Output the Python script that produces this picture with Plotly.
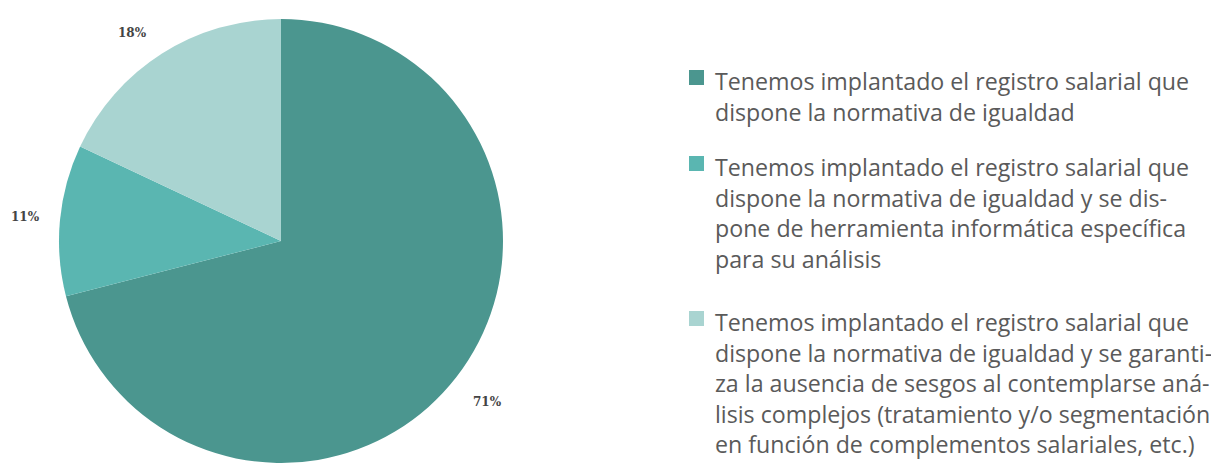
import plotly.graph_objects as go

# The page shows the figure with an 8px body margin, so the figure is drawn
# 8px smaller and every viewport position is shifted by that offset.
VW, VH = 1219, 463
OFF = 8
W, H = VW - OFF, VH - OFF

categories = [
    "Tenemos implantado el registro salarial que<br>dispone la normativa de igualdad",
    "Tenemos implantado el registro salarial que<br>dispone la normativa de igualdad y se dis-<br>pone de herramienta informática específica<br>para su análisis",
    "Tenemos implantado el registro salarial que<br>dispone la normativa de igualdad y se garanti-<br>za la ausencia de sesgos al contemplarse aná-<br>lisis complejos (tratamiento y/o segmentación<br>en función de complementos salariales, etc.)",
]
values = [71, 11, 18]
colors = ["#4b968f", "#5ab6b1", "#a9d4d1"]

# label positions (viewport pixels) for the outside percentage labels
label_px = [(487, 402), (25, 217), (133, 33)]
# legend first-line baselines (viewport pixels)
legend_first_baseline = [89, 175, 330]
LINE_H = 30.5


def px_x(x):
    return (x - OFF) / W


def px_y(y):
    return 1 - (y - OFF) / H


cx, cy, r = 281, 241, 222

fig = go.Figure()
fig.add_trace(go.Pie(
    values=values,
    labels=[c.replace("<br>", " ") for c in categories],
    marker=dict(colors=colors, line=dict(width=0)),
    sort=False,
    direction="clockwise",
    rotation=0,
    textinfo="none",
    hoverinfo="label+percent",
    showlegend=False,
    domain=dict(x=[px_x(cx - r), px_x(cx + r)],
                y=[max(0, px_y(cy + r)), px_y(cy - r)]),
))

annotations = []
total = sum(values)
for v, (lx, ly) in zip(values, label_px):
    annotations.append(dict(
        x=px_x(lx), y=px_y(ly), xref="paper", yref="paper",
        text=f"<b>{round(100 * v / total)}%</b>", showarrow=False,
        xanchor="center", yanchor="middle",
        font=dict(family="DejaVu Serif", size=12, color="#444444"),
    ))

shapes = []
FS = 23.2
for cat, col, b0 in zip(categories, colors, legend_first_baseline):
    shapes.append(dict(
        type="rect", xref="paper", yref="paper",
        x0=px_x(689), x1=px_x(704), y0=px_y(b0 - 4), y1=px_y(b0 - 19),
        fillcolor=col, line=dict(width=0),
    ))
    for i, line in enumerate(cat.split("<br>")):
        base = b0 + i * LINE_H
        annotations.append(dict(
            x=px_x(713), y=px_y(base - 0.33 * FS), xref="paper", yref="paper",
            text=line, showarrow=False, xanchor="left", yanchor="middle",
            font=dict(family="Open Sans", size=FS, color="#5a5a5a"),
        ))

fig.update_layout(
    width=W, height=H,
    margin=dict(l=0, r=0, t=0, b=0),
    paper_bgcolor="white", plot_bgcolor="white",
    annotations=annotations, shapes=shapes,
)

fig.write_html("out.html")
